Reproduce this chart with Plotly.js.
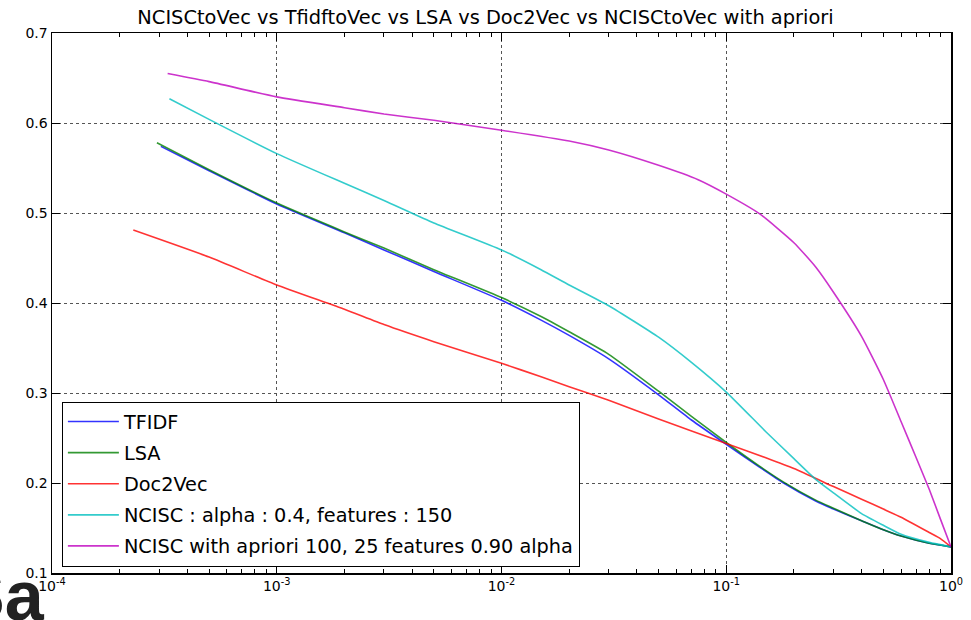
<!DOCTYPE html>
<html>
<head>
<meta charset="utf-8">
<script src="https://cdn.plot.ly/plotly-3.0.1.min.js"></script>
<style>html,body{margin:0;padding:0;background:#fff;}#chart{width:971px;height:620px;}</style>
</head>
<body>
<div id="chart"></div>
<script>
// ---- data ----
const tfidfX = [3.05e-4, 5e-4, 1e-3, 2e-3, 3e-3, 5e-3, 1e-2, 0.015, 0.02, 0.03, 0.05, 0.07, 0.1, 0.14, 0.18, 0.25, 0.3, 0.4, 0.5, 0.6, 0.8, 1];
const tfidfY = [0.574, 0.547, 0.510, 0.478, 0.459, 0.435, 0.403, 0.381, 0.364, 0.338, 0.298, 0.270, 0.243, 0.218, 0.200, 0.180, 0.171, 0.158, 0.148, 0.141, 0.133, 0.129];

const lsaX = [2.93e-4, 5e-4, 1e-3, 2e-3, 3e-3, 5e-3, 1e-2, 0.015, 0.02, 0.03, 0.05, 0.07, 0.1, 0.14, 0.18, 0.25, 0.3, 0.4, 0.5, 0.6, 0.8, 1];
const lsaY = [0.578, 0.548, 0.511, 0.479, 0.461, 0.437, 0.406, 0.385, 0.368, 0.343, 0.302, 0.274, 0.245, 0.219, 0.201, 0.181, 0.172, 0.158, 0.148, 0.141, 0.133, 0.129];

const d2vX = [2.3e-4, 5e-4, 1e-3, 2e-3, 3e-3, 5e-3, 1e-2, 0.015, 0.02, 0.03, 0.05, 0.1, 0.15, 0.2, 0.3, 0.4, 0.5, 0.6, 0.8, 0.9, 1];
const d2vY = [0.481, 0.451, 0.420, 0.393, 0.376, 0.357, 0.333, 0.318, 0.307, 0.292, 0.271, 0.244, 0.228, 0.216, 0.196, 0.182, 0.171, 0.162, 0.145, 0.138, 0.129];

const ncX = [3.33e-4, 5e-4, 1e-3, 2e-3, 3e-3, 5e-3, 1e-2, 0.015, 0.02, 0.03, 0.05, 0.07, 0.1, 0.15, 0.2, 0.25, 0.3, 0.4, 0.5, 0.6, 0.8, 1];
const ncY = [0.627, 0.604, 0.566, 0.533, 0.514, 0.489, 0.459, 0.437, 0.420, 0.397, 0.362, 0.334, 0.301, 0.257, 0.227, 0.204, 0.189, 0.166, 0.153, 0.143, 0.134, 0.129];

const aprX = [3.27e-4, 5e-4, 1e-3, 2e-3, 3e-3, 5e-3, 1e-2, 0.02, 0.03, 0.05, 0.075, 0.1, 0.141, 0.2, 0.25, 0.3, 0.4, 0.5, 0.6, 0.7, 0.8, 0.9, 1];
const aprY = [0.655, 0.646, 0.629, 0.617, 0.610, 0.603, 0.592, 0.580, 0.570, 0.553, 0.537, 0.521, 0.499, 0.467, 0.440, 0.412, 0.363, 0.315, 0.268, 0.228, 0.193, 0.159, 0.129];

const seriesNames = ["TFIDF", "LSA", "Doc2Vec", "NCISC : alpha : 0.4, features : 150", "NCISC with apriori 100, 25 features 0.90 alpha"];
const seriesColors = ["rgba(0,0,255,0.8)", "rgba(0,128,0,0.8)", "rgba(255,0,0,0.8)", "rgba(0,191,191,0.8)", "rgba(191,0,191,0.8)"];

const xTickVals = [1e-4, 1e-3, 1e-2, 1e-1, 1];
const xTickText = ["10<sup>-4</sup>", "10<sup>-3</sup>", "10<sup>-2</sup>", "10<sup>-1</sup>", "10<sup>0</sup>"];
const yTickVals = [0.1, 0.2, 0.3, 0.4, 0.5, 0.6, 0.7];
const yTickText = ["0.1", "0.2", "0.3", "0.4", "0.5", "0.6", "0.7"];

// minor ticks 2..9 in each decade
const minorX = [];
[1e-4, 1e-3, 1e-2, 1e-1].forEach(d => { for (let k = 2; k <= 9; k++) minorX.push(k * d); });

const xs = [tfidfX, lsaX, d2vX, ncX, aprX];
const ys = [tfidfY, lsaY, d2vY, ncY, aprY];

const traces = xs.map((x, i) => ({
  x: x, y: ys[i], type: "scatter", mode: "lines",
  name: seriesNames[i], legendgroup: "g" + i,
  line: {color: seriesColors[i], width: 1.6, shape: "spline", smoothing: 0.5}
}));

const FONT = "DejaVu Sans, sans-serif";
const layout = {
  width: 971, height: 620,
  margin: {l: 52, r: 20, t: 33, b: 47},
  paper_bgcolor: "#fff", plot_bgcolor: "#fff",
  font: {family: FONT, size: 14, color: "#000"},
  title: {text: "NCISCtoVec vs TfidftoVec vs LSA vs Doc2Vec vs NCISCtoVec with apriori",
          font: {family: FONT, size: 19.4, color: "#000"}, x: 0.5, xanchor: "center", y: 0.972, yanchor: "middle"},
  xaxis: {
    type: "log", range: [-4, 0], tickmode: "array", tickvals: xTickVals, ticktext: xTickText,
    ticks: "inside", ticklen: 8, tickwidth: 1, tickcolor: "#000",
    showline: true, linecolor: "#000", linewidth: 1.5, mirror: "ticks",
    showgrid: true, gridcolor: "#555", griddash: "dot", gridwidth: 1,
    zeroline: false, tickfont: {family: FONT, size: 14},
    minor: {tickmode: "array", tickvals: minorX, ticks: "inside", ticklen: 4, tickcolor: "#000", showgrid: false}
  },
  yaxis: {
    range: [0.1, 0.7], tickmode: "array", tickvals: yTickVals, ticktext: yTickText,
    ticks: "inside", ticklen: 8, tickwidth: 1, tickcolor: "#000",
    showline: true, linecolor: "#000", linewidth: 1.5, mirror: "ticks",
    showgrid: true, gridcolor: "#555", griddash: "dot", gridwidth: 1,
    zeroline: false, tickfont: {family: FONT, size: 14}
  },
  legend: {
    x: 0.011, y: 0.012, xanchor: "left", yanchor: "bottom",
    bgcolor: "#fff", bordercolor: "#000", borderwidth: 1,
    font: {family: FONT, size: 19.3, color: "#000"},
    tracegroupgap: 3, itemwidth: 51
  },
  showlegend: true,
  annotations: [{
    text: "<b>Sa</b>", xref: "paper", yref: "paper", x: -0.0056, y: -0.0426,
    xanchor: "right", yanchor: "middle", showarrow: false,
    font: {family: "Liberation Sans, sans-serif", size: 70, color: "#222"}
  }]
};

Plotly.newPlot("chart", traces, layout, {displayModeBar: false, staticPlot: true});
</script>
</body>
</html>
